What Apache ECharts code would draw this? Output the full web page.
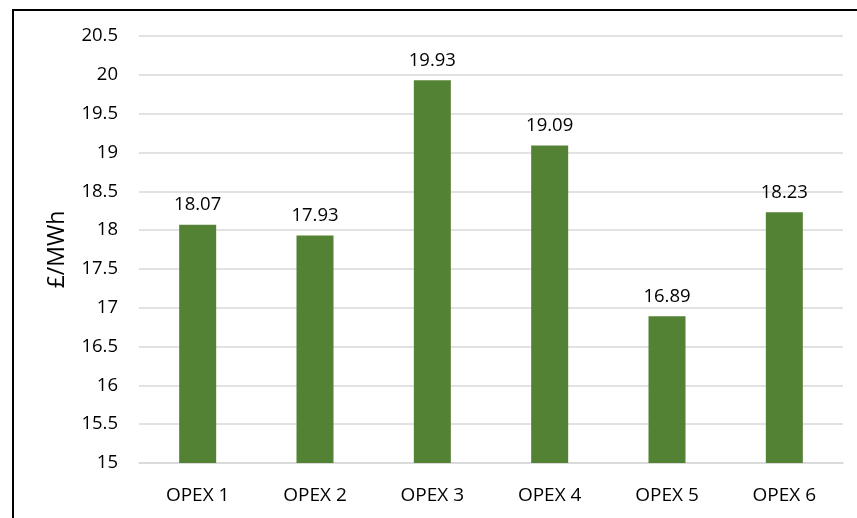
<!DOCTYPE html>
<html>
<head>
<meta charset="utf-8">
<script src="https://cdn.jsdelivr.net/npm/echarts@6/dist/echarts.min.js"></script>
<style>
  html, body { margin: 0; padding: 0; background: #fff; }
  #chart { width: 857px; height: 518px; }
</style>
</head>
<body>
<div id="chart"></div>
<script>
var categories = ['OPEX 1', 'OPEX 2', 'OPEX 3', 'OPEX 4', 'OPEX 5', 'OPEX 6'];
var values = [18.07, 17.93, 19.93, 19.09, 16.89, 18.23];

var myChart = echarts.init(document.getElementById('chart'));
var option = {
    animation: false,
    textStyle: { fontFamily: 'Open Sans' },
    graphic: [
        {
            type: 'rect',
            shape: { x: 13, y: 10, width: 900, height: 600 },
            style: { fill: 'none', stroke: '#000', lineWidth: 2 }
        }
    ],
    grid: { left: 139, right: 14, top: 36, bottom: 55 },
    xAxis: {
        type: 'category',
        data: categories,
        axisLine: { lineStyle: { color: '#d9d9d9', width: 1.5 } },
        axisTick: { show: false },
        axisLabel: { color: '#000', fontSize: 19, margin: 23 }
    },
    yAxis: {
        type: 'value',
        min: 15,
        max: 20.5,
        interval: 0.5,
        name: '£/MWh',
        nameLocation: 'middle',
        nameGap: 70,
        nameRotate: 90,
        nameTextStyle: { color: '#000', fontSize: 23 },
        axisLine: { show: false },
        axisTick: { show: false },
        axisLabel: { color: '#000', fontSize: 18.5, margin: 21 },
        splitLine: { lineStyle: { color: '#d9d9d9', width: 1.5 } }
    },
    series: [
        {
            type: 'bar',
            data: values,
            barWidth: 37,
            itemStyle: { color: '#548235' },
            label: {
                show: true,
                position: 'top',
                distance: 10,
                color: '#000',
                fontSize: 18.5
            }
        }
    ]
};
myChart.setOption(option);
</script>
</body>
</html>
